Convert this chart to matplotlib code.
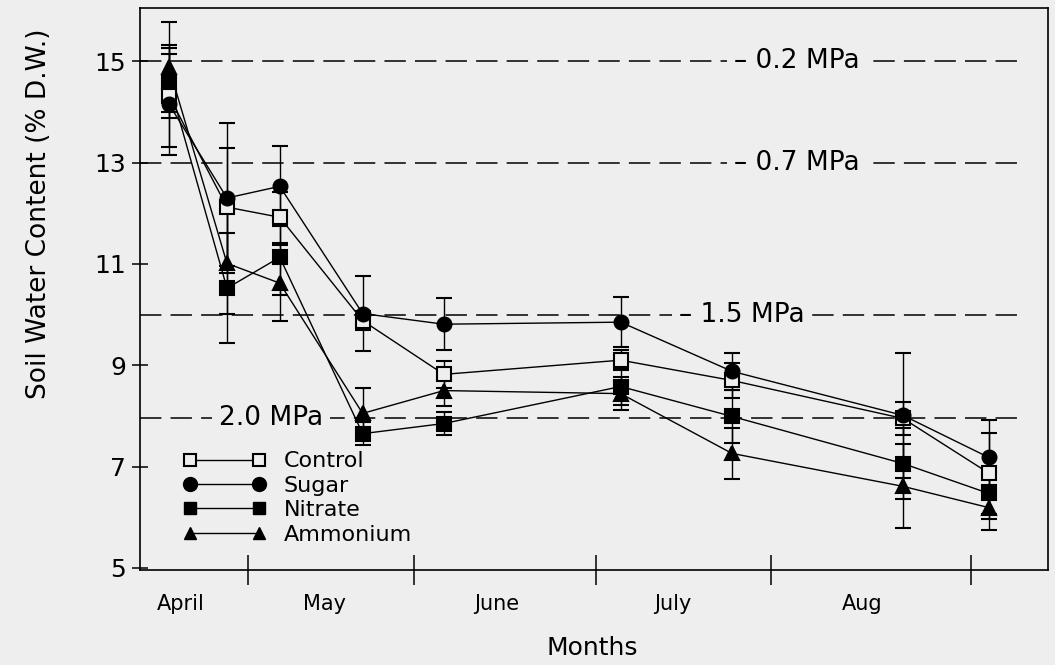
import matplotlib.pyplot as plt
from matplotlib.lines import Line2D

plt.rcParams['font.family'] = ['DejaVu Sans']

bg = '#eeeeee'

# sampling dates, days counted along the month axis
days = [5.0, 15.0, 24.1, 38.4, 52.4, 82.9, 102.1, 131.6, 146.4]

control = [14.31, 12.12, 11.92, 9.88, 8.82, 9.10, 8.70, 7.95, 6.87]
control_err = [1.00, 1.16, 0.50, 0.19, 0.26, 0.20, 0.34, 0.32, 0.80]
sugar = [14.15, 12.30, 12.53, 10.02, 9.81, 9.85, 8.88, 8.01, 7.18]
sugar_err = [1.00, 1.48, 0.79, 0.74, 0.51, 0.49, 0.36, 1.23, 0.73]
nitrate = [14.57, 10.52, 11.13, 7.65, 7.85, 8.58, 7.99, 7.06, 6.47]
nitrate_err = [0.70, 1.09, 0.75, 0.23, 0.23, 0.37, 0.53, 0.70, 0.50]
ammonium = [14.88, 11.01, 10.62, 8.05, 8.50, 8.44, 7.26, 6.61, 6.19]
ammonium_err = [0.89, 0.99, 0.75, 0.50, 0.30, 0.33, 0.51, 0.83, 0.45]

months = ['April', 'May', 'June', 'July', 'Aug']
month_centres = [7.1, 31.9, 61.5, 91.9, 124.5]
month_edges = [18.6, 47.2, 78.6, 108.8, 143.3]

# soil water potential reference levels
potentials = ['– 0.2 MPa', '– 0.7 MPa', '– 1.5 MPa', '2.0 MPa']
potential_levels = [15.0, 13.0, 10.0, 7.95]
potential_label_x = [113.3, 113.3, 103.8, 22.6]

fig, ax = plt.subplots(figsize=(10.55, 6.65), dpi=100)
fig.patch.set_facecolor(bg)
ax.set_facecolor(bg)
fig.subplots_adjust(left=0.1327, right=0.9934, bottom=0.1429, top=0.988)

# dashed reference lines with their labels
for lab, lev, lx in zip(potentials, potential_levels, potential_label_x):
    ax.plot([0, 151.7], [lev, lev], color='black', lw=1.1,
            linestyle=(0, (14, 6)), zorder=1)
    ax.text(lx, lev, lab, fontsize=19, ha='center', va='center', zorder=2,
            bbox=dict(facecolor=bg, edgecolor='none', pad=5))

series = [
    (ammonium, ammonium_err, '^', 'black', 'Ammonium'),
    (nitrate, nitrate_err, 's', 'black', 'Nitrate'),
    (control, control_err, 's', bg, 'Control'),
    (sugar, sugar_err, 'o', 'black', 'Sugar'),
]
for vals, errs, mk, fc, lab in series:
    ax.errorbar(days, vals, yerr=errs, fmt='-', marker=mk, color='black',
                mfc=fc, mec='black', mew=1.5, ms=10, lw=1.0,
                elinewidth=1.0, capsize=6, capthick=1.0, zorder=3)

handles = [
    Line2D([], [], color='black', lw=1.0, marker='s', mfc=bg, mec='black', mew=1.5, ms=9),
    Line2D([], [], color='black', lw=1.0, marker='o', mfc='black', mec='black', ms=10),
    Line2D([], [], color='black', lw=1.0, marker='s', mfc='black', mec='black', ms=9),
    Line2D([], [], color='black', lw=1.0, marker='^', mfc='black', mec='black', ms=9),
]
ax.legend(handles, ['Control', 'Sugar', 'Nitrate', 'Ammonium'], numpoints=2,
          frameon=False, fontsize=16, loc='center left',
          bbox_to_anchor=(0.048, 0.128), borderaxespad=0, borderpad=0,
          handlelength=3.7, handletextpad=0.8, labelspacing=0.2)

ax.set_xlim(0, 156.6)
ax.set_ylim(4.96, 16.05)
ax.set_yticks([5, 7, 9, 11, 13, 15])
ax.set_xticks(month_edges)
ax.set_xticklabels([''] * len(month_edges))
ax.set_xticks(month_centres, minor=True)
ax.set_xticklabels(months, minor=True, fontsize=15)
ax.tick_params(axis='x', which='major', direction='inout', length=22, width=1.1)
ax.tick_params(axis='x', which='minor', length=0, pad=17)
ax.tick_params(axis='y', direction='inout', length=12, width=1.1,
               labelsize=18, pad=4)
for sp in ax.spines.values():
    sp.set_linewidth(1.2)

ax.set_ylabel('Soil Water Content (% D.W.)', fontsize=19)
ax.yaxis.set_label_coords(-0.097, 0.633)
ax.set_xlabel('Months', fontsize=18)
ax.xaxis.set_label_coords(0.498, -0.118)

fig.savefig('out.png', dpi=100, facecolor=bg)
